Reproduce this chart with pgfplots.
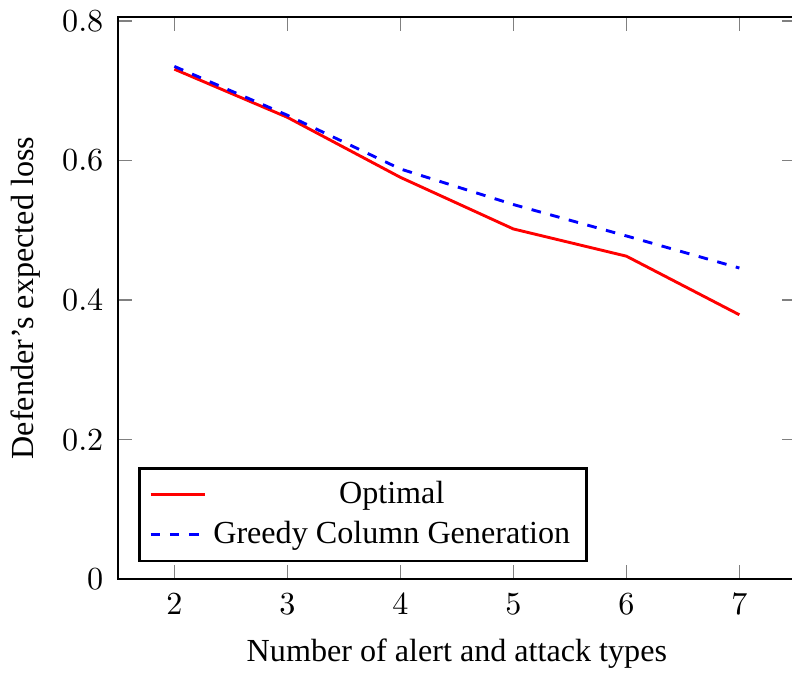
\documentclass[border=0pt]{standalone}
\usepackage{fontspec}
\setmainfont{Liberation Serif}
\usepackage{pgfplots}
\pgfplotsset{compat=1.18}
\begin{document}
\begin{tikzpicture}
\begin{axis}[
  scale only axis,
  width=211pt, height=175pt,
  xmin=1.5, xmax=7.5,
  ymin=0, ymax=0.806,
  xtick={2,3,4,5,6,7},
  ytick={0,0.2,0.4,0.6,0.8},
  yticklabels={$0$,$0.2$,$0.4$,$0.6$,$0.8$},
  axis line style={line width=0.8pt},
  tick style={gray, line width=0.4pt},
  xticklabel style={yshift=-1pt},
  yticklabel style={xshift=-1pt},
  xlabel={Number of alert and attack types},
  xlabel style={yshift=-0.8pt},
  ylabel={Defender's expected loss},
  legend pos=south west,
  legend cell align=center,
  legend style={line width=0.8pt, draw=black, font=\normalsize},
]
\addplot[red, line width=0.9pt] coordinates {
  (2,0.731) (3,0.662) (4,0.576) (5,0.502) (6,0.463) (7,0.379)
};
\addlegendentry{Optimal}
\addplot[blue, dashed, line width=0.9pt] coordinates {
  (2,0.735) (3,0.665) (4,0.588) (5,0.537) (6,0.492) (7,0.446)
};
\addlegendentry{Greedy Column Generation}
\end{axis}
\coordinate (bsw) at (current bounding box.south west);
\coordinate (bne) at (current bounding box.north east);
\pgfresetboundingbox
\path[use as bounding box] (bsw) rectangle ([xshift=-1.6pt]bne);
\end{tikzpicture}
\end{document}
